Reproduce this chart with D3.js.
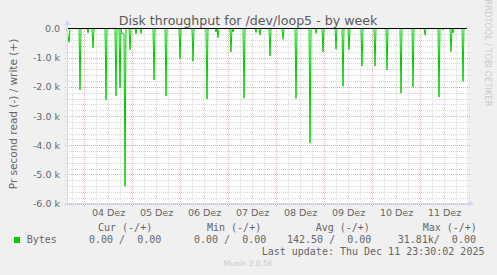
<!DOCTYPE html>
<html>
<head>
<meta charset="utf-8">
<script src="https://cdn.jsdelivr.net/npm/d3@7"></script>
<style>
  html, body { margin: 0; padding: 0; background: #f0f0f0; }
  svg { display: block; }
  text { fill: #666666; }
</style>
</head>
<body>
<div id="wrapper"></div>
<script>
// data (read = negative, bytes per second)
const spikeTimes = [
  "2025-12-03 16:00", "2025-12-03 16:30", "2025-12-03 22:00",
  "2025-12-04 02:00", "2025-12-04 04:30", "2025-12-04 11:00", "2025-12-04 16:00",
  "2025-12-04 18:00", "2025-12-04 19:00", "2025-12-04 19:30", "2025-12-04 20:00",
  "2025-12-04 20:30", "2025-12-04 23:00",
  "2025-12-05 02:00", "2025-12-05 04:30", "2025-12-05 11:00", "2025-12-05 17:00",
  "2025-12-06 00:00", "2025-12-06 06:30", "2025-12-06 13:30", "2025-12-06 18:00",
  "2025-12-06 19:00",
  "2025-12-07 01:30", "2025-12-07 02:30", "2025-12-07 08:00", "2025-12-07 14:00",
  "2025-12-07 16:00", "2025-12-07 21:00",
  "2025-12-08 03:30", "2025-12-08 10:00", "2025-12-08 17:00", "2025-12-08 20:00",
  "2025-12-08 23:30",
  "2025-12-09 06:00", "2025-12-09 09:30", "2025-12-09 12:30", "2025-12-09 19:00",
  "2025-12-10 01:30", "2025-12-10 07:30", "2025-12-10 14:30", "2025-12-10 20:30",
  "2025-12-11 02:30", "2025-12-11 09:30", "2025-12-11 11:30", "2025-12-11 15:30",
  "2025-12-11 16:30", "2025-12-11 21:30"
];
const readValues = [
  -250, -470, -2100,
  -150, -670, -2450, -2310,
  -2030, -170, -170, -200,
  -5410, -730,
  -180, -170, -1760, -2320,
  -1040, -1120, -2420, -120,
  -310,
  -800, -120, -2390, -140,
  -220, -940,
  -370, -2400, -3930, -170,
  -800,
  -710, -1980, -730, -1290,
  -1290, -1420, -2220, -2010,
  -220, -2350, -50, -790,
  -150, -1810
];
const writeValues = [0, 0];

const yMajorTicks = [0, -1000, -2000, -3000, -4000, -5000, -6000];
const dayLabels = ["04 Dez", "05 Dez", "06 Dez", "07 Dez", "08 Dez", "09 Dez", "10 Dez", "11 Dez"];
const legendHeads = ["Cur (-/+)", "Min (-/+)", "Avg (-/+)", "Max (-/+)"];
const legendValues = ["0.00 /  0.00", "0.00 /  0.00", "142.50 /  0.00", "31.81k/  0.00"];

const parse = d3.timeParse("%Y-%m-%d %H:%M");
const start = parse("2025-12-03 15:30");
const end = parse("2025-12-11 23:30");

// 30 minute samples, zero where no spike was seen
const spikeMap = new Map(spikeTimes.map((t, i) => [+parse(t), readValues[i]]));
const readSeries = d3.timeMinute.every(30).range(start, d3.timeMinute.offset(end, 1))
  .map(t => ({ t, v: spikeMap.has(+t) ? spikeMap.get(+t) : 0 }));
const writeSeries = [start, end].map((t, i) => ({ t, v: writeValues[i] }));

const width = 497, height = 275;
const plot = { left: 67, right: 467, top: 28.5, bottom: 203.5 };

const svg = d3.select("#wrapper").append("svg")
  .attr("width", width).attr("height", height);

svg.append("rect").attr("width", width).attr("height", height).attr("fill", "#f0f0f0");
svg.append("rect")
  .attr("x", plot.left).attr("y", plot.top)
  .attr("width", plot.right - plot.left).attr("height", plot.bottom - plot.top)
  .attr("fill", "#ffffff");

const x = d3.scaleTime().domain([start, end]).range([plot.left, plot.right]);
const y = d3.scaleLinear().domain([-6000, 0]).range([plot.bottom, plot.top]);

// grid
const grid = svg.append("g").attr("shape-rendering", "crispEdges");
const minorY = d3.range(-6000, 1, 200).filter(v => v % 1000 !== 0);
grid.selectAll(".hmin").data(minorY).enter().append("line")
  .attr("x1", plot.left - 2).attr("x2", plot.right + 3)
  .attr("y1", d => Math.round(y(d)) + 0.5).attr("y2", d => Math.round(y(d)) + 0.5)
  .attr("stroke", "#d8d8d8").attr("stroke-dasharray", "1,1");
const minorX = d3.timeHour.every(6).range(start, end).filter(d => d.getHours() !== 0);
grid.selectAll(".vmin").data(minorX).enter().append("line")
  .attr("x1", d => Math.round(x(d)) + 0.5).attr("x2", d => Math.round(x(d)) + 0.5)
  .attr("y1", plot.top).attr("y2", plot.bottom + 2)
  .attr("stroke", "#d8d8d8").attr("stroke-dasharray", "1,1");
grid.selectAll(".hmaj").data(yMajorTicks.filter(d => d !== 0)).enter().append("line")
  .attr("x1", plot.left - 2).attr("x2", plot.right + 3)
  .attr("y1", d => Math.round(y(d)) + 0.5).attr("y2", d => Math.round(y(d)) + 0.5)
  .attr("stroke", "#e8a8a8").attr("stroke-dasharray", "1,1");
const majorX = d3.timeDay.every(1).range(start, end);
grid.selectAll(".vmaj").data(majorX).enter().append("line")
  .attr("x1", d => Math.round(x(d)) + 0.5).attr("x2", d => Math.round(x(d)) + 0.5)
  .attr("y1", plot.top).attr("y2", plot.bottom + 2)
  .attr("stroke", "#e8a8a8").attr("stroke-dasharray", "1,1");

// series
const line = d3.line().x(d => x(d.t)).y(d => y(d.v));
svg.append("path").datum(readSeries)
  .attr("d", line).attr("fill", "none")
  .attr("stroke", "#00cc00").attr("stroke-width", 1);
svg.append("path").datum(writeSeries)
  .attr("d", line).attr("fill", "none")
  .attr("stroke", "#00cc00").attr("stroke-width", 1);

// zero rule
svg.append("line")
  .attr("x1", plot.left).attr("x2", plot.right)
  .attr("y1", y(0)).attr("y2", y(0))
  .attr("stroke", "#000").attr("stroke-width", 1)
  .attr("shape-rendering", "crispEdges");

// axes lines with arrows
const axisColor = "#cfd6f8";
svg.append("line").attr("x1", plot.left + 0.5).attr("x2", plot.left + 0.5)
  .attr("y1", plot.bottom + 2).attr("y2", 24)
  .attr("stroke", axisColor).attr("shape-rendering", "crispEdges");
svg.append("path").attr("d", `M${plot.left - 2.5},25 L${plot.left + 3.5},25 L${plot.left + 0.5},20 Z`)
  .attr("fill", axisColor);
svg.append("line").attr("x1", plot.left - 2).attr("x2", plot.right + 3)
  .attr("y1", plot.bottom).attr("y2", plot.bottom)
  .attr("stroke", axisColor).attr("shape-rendering", "crispEdges");
svg.append("path").attr("d", `M${plot.right + 2},${plot.bottom - 3} L${plot.right + 2},${plot.bottom + 3} L${plot.right + 7},${plot.bottom} Z`)
  .attr("fill", axisColor);

// y labels
const yAxis = d3.axisLeft(y).tickValues(yMajorTicks).tickSize(0).tickPadding(7)
  .tickFormat(d => d === 0 ? "0.0" : "-" + (Math.abs(d) / 1000).toFixed(1) + " k");
const yg = svg.append("g").attr("transform", `translate(${plot.left},0)`).call(yAxis);
yg.select(".domain").remove();
yg.selectAll("text").attr("fill", "#666666")
  .style("font-family", "DejaVu Sans").style("font-size", "9.5px");

// x labels at noon
const noonTicks = dayLabels.map((l, i) => d3.timeHour.offset(parse("2025-12-04 12:00"), 24 * i));
const xAxis = d3.axisBottom(x).tickValues(noonTicks).tickSize(0).tickPadding(6)
  .tickFormat((d, i) => dayLabels[i]);
const xg = svg.append("g").attr("transform", `translate(0,${plot.bottom})`).call(xAxis);
xg.select(".domain").remove();
xg.selectAll("text").attr("fill", "#666666")
  .style("font-family", "DejaVu Sans").style("font-size", "9.5px");

// titles
svg.append("text").attr("x", 248).attr("y", 25).attr("text-anchor", "middle")
  .style("font-family", "DejaVu Sans").style("font-size", "12.6px").style("fill", "#5a5a5a")
  .text("Disk throughput for /dev/loop5 - by week");
svg.append("text").attr("transform", "translate(17,114) rotate(-90)")
  .attr("text-anchor", "middle")
  .style("font-family", "DejaVu Sans").style("font-size", "10.5px")
  .text("Pr second read (-) / write (+)");
svg.append("text").attr("transform", "translate(485,53) rotate(90)")
  .attr("text-anchor", "middle")
  .style("font-family", "DejaVu Sans").style("font-size", "8.3px").style("fill", "#cccccc")
  .text("RRDTOOL / TOBI OETIKER");

// legend
const mono = { "font-family": "DejaVu Sans Mono", "font-size": "10px" };
const headX = [98, 207, 315.7, 422.7];
const valX = [89, 194, 287, 397.7];
legendHeads.forEach((h, i) => {
  svg.append("text").attr("x", headX[i]).attr("y", 231)
    .style("font-family", mono["font-family"]).style("font-size", mono["font-size"])
    .style("white-space", "pre").text(h);
});
svg.append("rect").attr("x", 14).attr("y", 237).attr("width", 6).attr("height", 6)
  .attr("fill", "#00cc00");
svg.append("text").attr("x", 26.7).attr("y", 243)
  .style("font-family", mono["font-family"]).style("font-size", mono["font-size"])
  .text("Bytes");
legendValues.forEach((v, i) => {
  svg.append("text").attr("x", valX[i]).attr("y", 243)
    .style("font-family", mono["font-family"]).style("font-size", mono["font-size"])
    .style("white-space", "pre").text(v);
});
svg.append("text").attr("x", 261.7).attr("y", 255)
  .style("font-family", mono["font-family"]).style("font-size", mono["font-size"])
  .text("Last update: Thu Dec 11 23:30:02 2025");
svg.append("text").attr("x", 248).attr("y", 266).attr("text-anchor", "middle")
  .style("font-family", "DejaVu Sans").style("font-size", "7.5px").style("fill", "#c8c8c8")
  .text("Munin 2.0.56");
</script>
</body>
</html>
